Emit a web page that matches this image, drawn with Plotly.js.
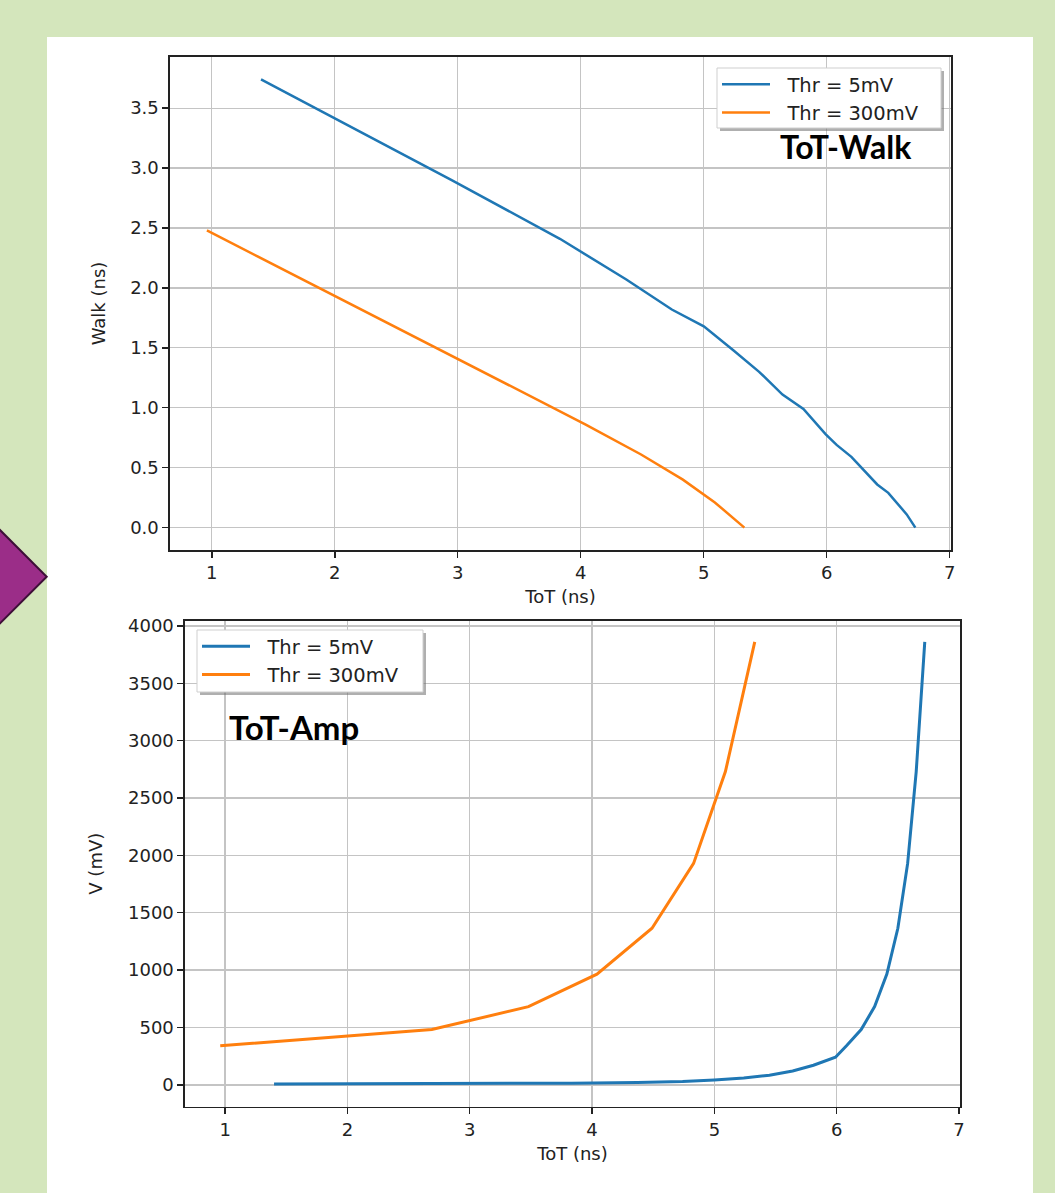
<!DOCTYPE html>
<html>
<head>
<meta charset="utf-8">
<script src="https://cdn.plot.ly/plotly-3.0.1.min.js"></script>
<style>
html,body{margin:0;padding:0;background:#d4e6bc;}
#chart{width:1055px;height:1193px;}
</style>
</head>
<body>
<div id="chart"></div>
<script>
// ---- data ----
const seriesNames = ["Thr = 5mV", "Thr = 300mV"];
// Thr = 5mV
const totBlue  = [1.40, 2.95, 3.83, 4.37, 4.74, 5.00, 5.24, 5.45, 5.64, 5.81, 5.99, 6.08, 6.20, 6.31, 6.41, 6.50, 6.58, 6.65, 6.72];
const walkBlue = [3.74, 2.90, 2.41, 2.07, 1.82, 1.68, 1.48, 1.30, 1.11, 0.99, 0.78, 0.69, 0.59, 0.47, 0.36, 0.29, 0.19, 0.11, 0.00];
const ampBlue  = [7.5, 10.6, 15, 21, 30, 43, 60, 85, 121, 171, 241, 341, 482, 682, 965, 1365, 1930, 2730, 3860];
// Thr = 300mV
const totOrange  = [0.96, 2.69, 3.48, 4.04, 4.49, 4.83, 5.09, 5.33];
const walkOrange = [2.48, 1.57, 1.16, 0.86, 0.61, 0.40, 0.21, 0.00];
const ampOrange  = [341, 482, 682, 965, 1365, 1930, 2730, 3860];
// ticks
const xTicks = [1, 2, 3, 4, 5, 6, 7];
const walkTicks = [0.0, 0.5, 1.0, 1.5, 2.0, 2.5, 3.0, 3.5];
const ampTicks = [0, 500, 1000, 1500, 2000, 2500, 3000, 3500, 4000];

// ---- helpers (pixel -> paper, margins are zero) ----
const W = 1055, H = 1193;
const px = x => x / W;
const py = y => 1 - y / H;

const BLUE = "#1f77b4", ORANGE = "#ff7f0e";
const FONT = "DejaVu Sans, sans-serif";
const TXT = "#222222";
const pad = s => "  " + s;   // gap between legend line sample and label

const traces = [
  {x: totBlue, y: walkBlue, type: "scatter", mode: "lines", name: pad(seriesNames[0]),
   line: {color: BLUE, width: 2.5}, xaxis: "x", yaxis: "y", legend: "legend"},
  {x: totOrange, y: walkOrange, type: "scatter", mode: "lines", name: pad(seriesNames[1]),
   line: {color: ORANGE, width: 2.5}, xaxis: "x", yaxis: "y", legend: "legend"},
  {x: totBlue, y: ampBlue, type: "scatter", mode: "lines", name: pad(seriesNames[0]),
   line: {color: BLUE, width: 3}, xaxis: "x2", yaxis: "y2", legend: "legend2"},
  {x: totOrange, y: ampOrange, type: "scatter", mode: "lines", name: pad(seriesNames[1]),
   line: {color: ORANGE, width: 3}, xaxis: "x2", yaxis: "y2", legend: "legend2"}
];

function axisBase() {
  return {
    showline: true, mirror: true, linecolor: "#222", linewidth: 1.6,
    ticks: "outside", ticklen: 6, tickwidth: 1.4, tickcolor: "#222",
    showgrid: true, gridcolor: "#c4c4c4", gridwidth: 1.3,
    zeroline: false,
    tickfont: {family: FONT, size: 18, color: TXT},
    fixedrange: true
  };
}

const legendBase = {
  xanchor: "left", yanchor: "top",
  bgcolor: "rgba(0,0,0,0)", borderwidth: 0,
  itemwidth: 48, tracegroupgap: 0,
  font: {family: FONT, size: 19.5, color: TXT}
};

// legend frames (box + drop shadow), pixel boxes
function legendFrame(l, t, r, b) {
  return [
    {type: "rect", xref: "paper", yref: "paper", layer: "above",
     x0: px(l + 3), x1: px(r + 3), y0: py(b + 3), y1: py(t + 3),
     fillcolor: "rgba(110,110,110,0.55)", line: {width: 0}},
    {type: "rect", xref: "paper", yref: "paper", layer: "above",
     x0: px(l), x1: px(r), y0: py(b), y1: py(t),
     fillcolor: "#ffffff", line: {color: "#cfcfcf", width: 1}}
  ];
}

const layout = {
  width: W, height: H,
  margin: {l: 0, r: 0, t: 0, b: 0},
  paper_bgcolor: "#d4e6bc",
  plot_bgcolor: "#ffffff",
  font: {family: FONT, color: TXT},
  xaxis: Object.assign(axisBase(), {
    domain: [px(170), px(951)], anchor: "y", range: [0.66, 7.01],
    tickvals: xTicks, ticktext: xTicks.map(String),
    title: {text: "ToT (ns)", font: {family: FONT, size: 18, color: TXT}, standoff: 8}
  }),
  yaxis: Object.assign(axisBase(), {
    domain: [py(550), py(57)], anchor: "x", range: [-0.187, 3.927],
    tickvals: walkTicks, ticktext: walkTicks.map(v => v.toFixed(1)),
    title: {text: "Walk (ns)", font: {family: FONT, size: 18, color: TXT}, standoff: 20}
  }),
  xaxis2: Object.assign(axisBase(), {
    domain: [px(185), px(960)], anchor: "y2", range: [0.672, 7.008],
    tickvals: xTicks, ticktext: xTicks.map(String),
    title: {text: "ToT (ns)", font: {family: FONT, size: 18, color: TXT}, standoff: 8}
  }),
  yaxis2: Object.assign(axisBase(), {
    domain: [py(1106.7), py(620.7)], anchor: "x2", range: [-190, 4045],
    tickvals: ampTicks, ticktext: ampTicks.map(String),
    title: {text: "V (mV)", font: {family: FONT, size: 18, color: TXT}, standoff: 20}
  }),
  showlegend: true,
  legend: Object.assign({}, legendBase, {x: px(717), y: py(65)}),
  legend2: Object.assign({}, legendBase, {x: px(197), y: py(627)}),
  shapes: [
    // white panel
    {type: "rect", xref: "paper", yref: "paper", layer: "below",
     x0: px(47), x1: px(1033), y0: py(1193), y1: py(37),
     fillcolor: "#ffffff", line: {width: 0}},
    // purple arrow
    {type: "path", xref: "paper", yref: "paper", layer: "above",
     path: `M ${px(-47)},${py(576.7)} L ${px(0)},${py(530)} L ${px(46.7)},${py(576.7)} L ${px(0)},${py(623.4)} Z`,
     fillcolor: "#9b2d88", line: {color: "#3e0f38", width: 2}}
  ].concat(legendFrame(717, 68, 941, 128), legendFrame(197, 630, 423, 692)),
  annotations: [
    {xref: "paper", yref: "paper", x: px(846), y: py(146), xanchor: "center", yanchor: "middle",
     text: "<b>ToT-Walk</b>", showarrow: false,
     font: {family: "Lato, sans-serif", size: 32, color: "#000000"}},
    {xref: "paper", yref: "paper", x: px(294), y: py(727), xanchor: "center", yanchor: "middle",
     text: "<b>ToT-Amp</b>", showarrow: false,
     font: {family: "Lato, sans-serif", size: 33, color: "#000000"}}
  ]
};

Plotly.newPlot("chart", traces, layout, {displayModeBar: false, staticPlot: true});
</script>
</body>
</html>
